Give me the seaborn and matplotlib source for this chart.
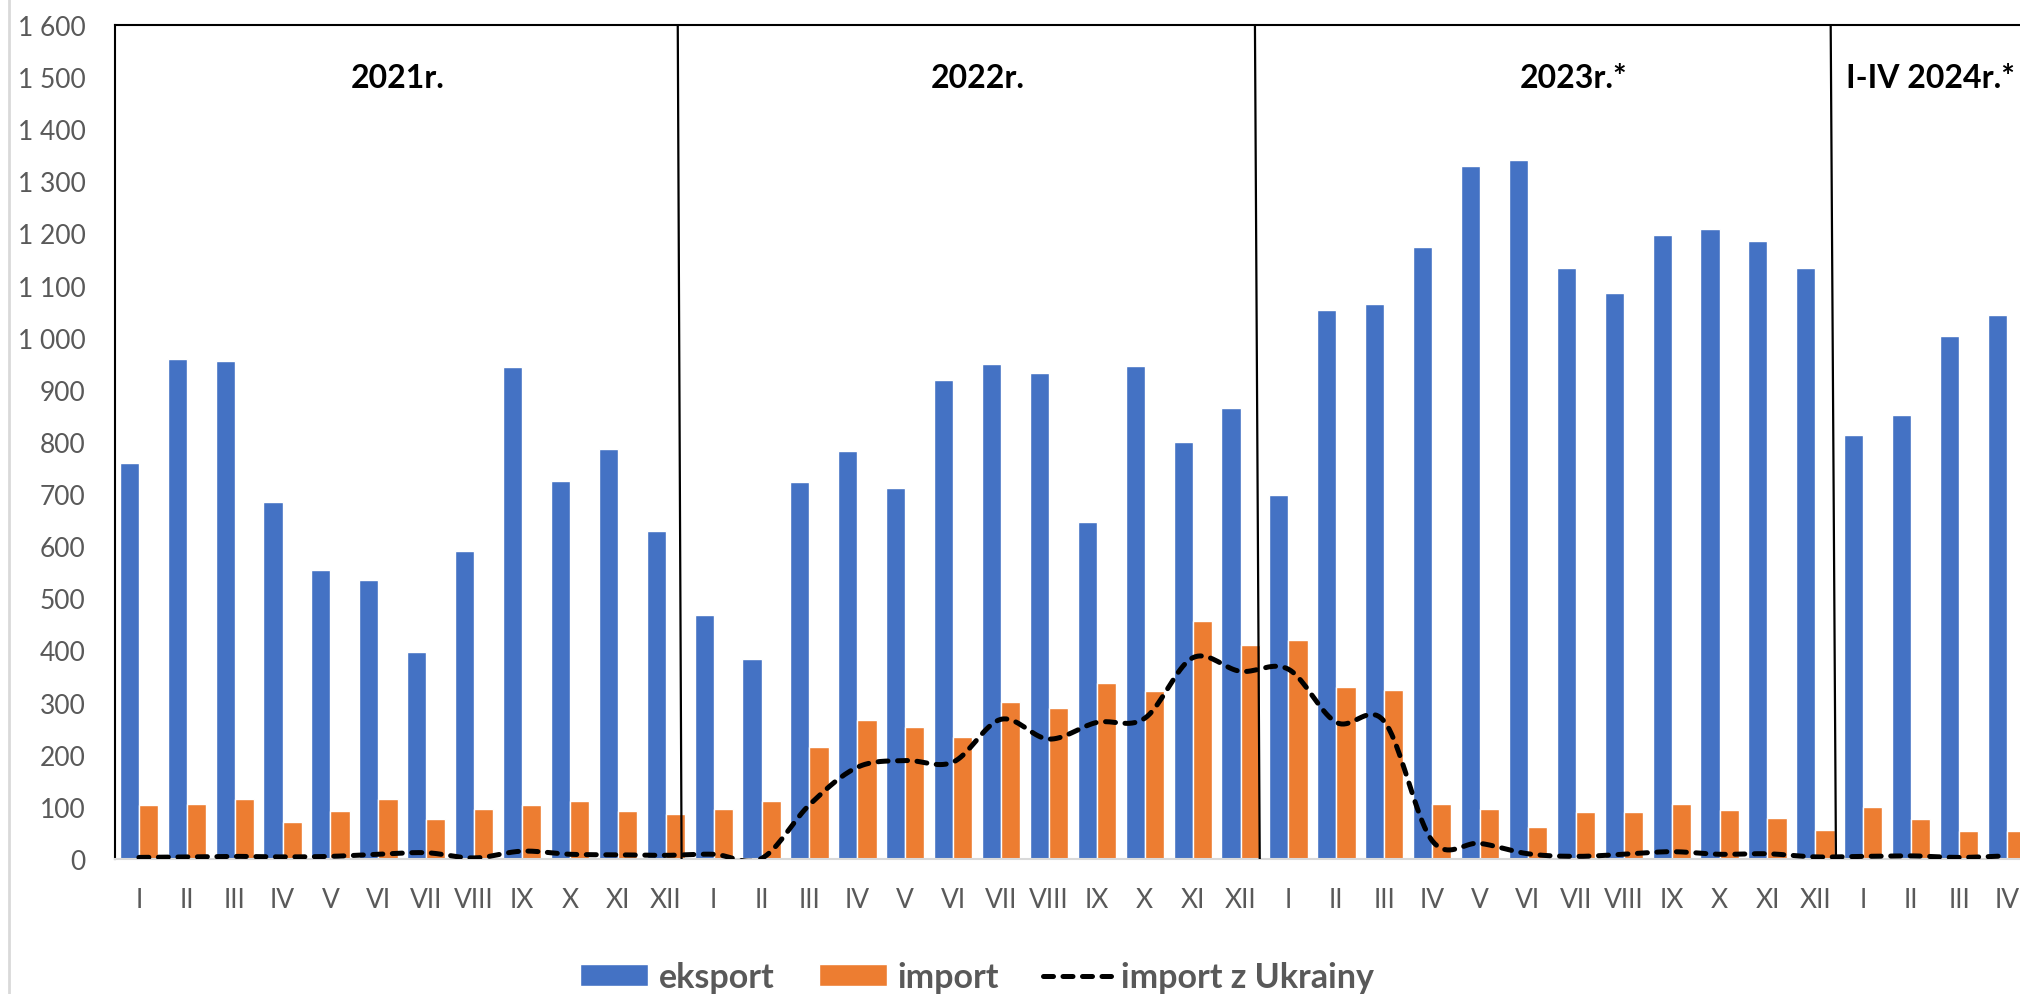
import numpy as np
import pandas as pd
import matplotlib.pyplot as plt
import seaborn as sns
from matplotlib.patches import Patch
from matplotlib.lines import Line2D

months = ['I', 'II', 'III', 'IV', 'V', 'VI', 'VII', 'VIII', 'IX', 'X', 'XI', 'XII']
month_labels = months * 3 + months[:4]
year_labels = ['2021r.', '2022r.', '2023r.*', 'I-IV 2024r.*']

eksport = [760, 959, 955, 684, 555, 536, 398, 591, 944, 726, 787, 630,
           468, 384, 724, 782, 711, 918, 949, 932, 647, 945, 800, 866,
           699, 1053, 1065, 1174, 1329, 1341, 1134, 1085, 1198, 1208, 1186, 1134,
           814, 851, 1004, 1043]
import_total = [104, 106, 116, 70, 92, 116, 77, 96, 104, 111, 92, 86,
                96, 111, 214, 266, 253, 234, 301, 290, 338, 323, 457, 411,
                421, 330, 325, 106, 96, 61, 91, 91, 106, 94, 79, 56,
                99, 76, 54, 54]
import_ukraina = [3, 4, 5, 4, 5, 9, 12, 2, 15, 9, 8, 7,
                  9, 1, 104, 176, 189, 186, 268, 230, 262, 270, 386, 360,
                  364, 262, 264, 35, 30, 10, 5, 9, 14, 9, 10, 4,
                  5, 6, 3, 6]

BLUE = '#4472C4'
ORANGE = '#ED7D31'
GREY = '#595959'

ids = [f'{i:02d}' for i in range(len(month_labels))]
df = pd.DataFrame({
    'id': ids * 2,
    'value': eksport + import_total,
    'seria': ['eksport'] * len(ids) + ['import'] * len(ids),
})


def smooth(y, n=20):
    # Excel-like smoothed line (Catmull-Rom through the points)
    y = np.asarray(y, dtype=float)
    x = np.arange(len(y), dtype=float)
    px = np.concatenate([[x[0]], x, [x[-1]]])
    py = np.concatenate([[y[0]], y, [y[-1]]])
    xs, ys = [], []
    t = np.linspace(0, 1, n)
    for i in range(1, len(px) - 2):
        p0, p3 = np.array([px[i], py[i]]), np.array([px[i + 1], py[i + 1]])
        p1 = p0 + (p3 - np.array([px[i - 1], py[i - 1]])) / 6
        p2 = p3 - (np.array([px[i + 2], py[i + 2]]) - p0) / 6
        b = ((1 - t) ** 3)[:, None] * p0 + (3 * (1 - t) ** 2 * t)[:, None] * p1 \
            + (3 * (1 - t) * t ** 2)[:, None] * p2 + (t ** 3)[:, None] * p3
        xs.append(b[:, 0])
        ys.append(b[:, 1])
    return np.concatenate(xs), np.concatenate(ys)


sns.set_theme(style='white')
plt.rcParams['font.family'] = ['Lato', 'DejaVu Sans']

fig = plt.figure(figsize=(20.2, 9.95), dpi=100)
ax = fig.add_axes([0.0569, 0.1357, 0.9485, 0.8382])

sns.barplot(data=df, x='id', y='value', hue='seria', order=ids,
            palette=[BLUE, ORANGE], width=0.8, gap=0, saturation=1,
            legend=False, ax=ax)

sx, sy = smooth(import_ukraina)
ax.plot(sx, sy, color='black', lw=3.6, dashes=(2.0, 1.9),
        dash_capstyle='round', zorder=5)

# year dividers
for top, bottom in [(11.25, 11.33), (23.3, 23.4), (35.32, 35.43)]:
    ax.plot([top, bottom], [1600, 0], color='black', lw=1.6, zorder=6)

year_pos = [(5.41, 'center'), (17.52, 'center'), (29.95, 'center'), (35.64, 'left')]
for (xp, ha), lab in zip(year_pos, year_labels):
    ax.text(xp, 1500, lab, ha=ha, va='center', fontsize=23,
            fontweight='bold', color='black')

ax.set_xlim(-0.5, len(ids) - 0.5)
ax.set_ylim(0, 1600)
ax.set_yticks(range(0, 1601, 100))
ax.set_yticklabels([f'{v:,}'.replace(',', ' ') for v in range(0, 1601, 100)])
ax.set_xticks(range(len(ids)))
ax.set_xticklabels(month_labels)
ax.tick_params(axis='y', length=0, pad=21, labelsize=19, labelcolor=GREY)
ax.tick_params(axis='x', length=0, pad=20, labelsize=19, labelcolor=GREY)
ax.set_xlabel('')
ax.set_ylabel('')

for side in ['top', 'left']:
    ax.spines[side].set_color('black')
    ax.spines[side].set_linewidth(1.5)
ax.spines['bottom'].set_color('#D9D9D9')
ax.spines['bottom'].set_linewidth(1.5)
ax.spines['right'].set_visible(False)

# outer chart border on the left
fig.add_artist(Line2D([0.0045, 0.0045], [0, 1], color='#D9D9D9', lw=2))

handles = [Patch(facecolor=BLUE), Patch(facecolor=ORANGE),
           Line2D([0], [0], color='black', lw=3.6, dashes=(2.0, 1.9), dash_capstyle='round')]
leg = fig.legend(handles, ['eksport', 'import', 'import z Ukrainy'],
                 loc='center', bbox_to_anchor=(0.4837, 0.017), ncol=3, frameon=False,
                 prop={'size': 24.5, 'weight': 'bold'}, handlelength=2.0,
                 handleheight=0.62, handletextpad=0.3, columnspacing=1.3)
for t in leg.get_texts():
    t.set_color(GREY)

fig.savefig('out.png', dpi=100)
